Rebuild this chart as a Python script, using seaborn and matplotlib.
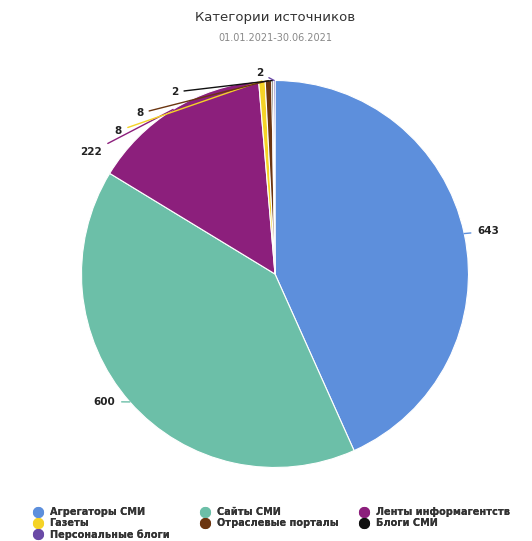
import numpy as np
import matplotlib
matplotlib.use("Agg")
import matplotlib.pyplot as plt
import seaborn as sns
from matplotlib.lines import Line2D

# Source categories and mention counts for the period
categories = ["Агрегаторы СМИ", "Сайты СМИ", "Ленты информагентств", "Газеты",
              "Отраслевые порталы", "Блоги СМИ", "Персональные блоги"]
counts = [643, 600, 222, 8, 8, 2, 2]
colors = ["#5d8fdc", "#6cbfa8", "#8c1f7c", "#f5d327", "#6b3510", "#111111", "#6a4aa6"]

title = "Категории источников"
subtitle = "01.01.2021-30.06.2021"

# Label placement (axes data units, pie radius = 1)
label_pos = [(1.10, 0.22), (-0.88, -0.66), (-0.95, 0.63), (-0.81, 0.74),
             (-0.70, 0.83), (-0.52, 0.94), (-0.08, 1.04)]

sns.set_theme(style="white")
plt.rcParams["font.family"] = ["DejaVu Sans"]

fig = plt.figure(figsize=(5.32, 5.41), dpi=100)
fig.patch.set_facecolor("white")

ax = fig.add_axes([0.1532, 0.1359, 0.7274, 0.7153])
wedges, _ = ax.pie(counts, colors=colors, startangle=90, counterclock=False,
                   radius=1.0, wedgeprops=dict(edgecolor="white", linewidth=0.8))
ax.set_xlim(-1, 1)
ax.set_ylim(-1, 1)
ax.set_aspect("auto")
ax.axis("off")

total = float(sum(counts))
cum = 0.0
for v, col, (tx, ty) in zip(counts, colors, label_pos):
    mid = np.deg2rad(90 - 360.0 * (cum + v / 2.0) / total)
    cum += v
    px, py = np.cos(mid), np.sin(mid)
    ax.annotate(str(v), xy=(px, py), xytext=(tx, ty), ha="center", va="center",
                fontsize=7.5, fontweight="bold", color="#222222",
                annotation_clip=False,
                arrowprops=dict(arrowstyle="-", color=col, lw=1.0,
                                shrinkA=2, shrinkB=0))

fig.text(0.517, 0.968, title, ha="center", va="center", fontsize=9.5, color="#333333")
fig.text(0.517, 0.930, subtitle, ha="center", va="center", fontsize=7, color="#888888")

# Legend laid out row by row in three columns
handles = [Line2D([0], [0], marker="o", linestyle="", markersize=7,
                  markerfacecolor=c, markeredgecolor=c) for c in colors]
col_x = [0.062, 0.376, 0.675]
for j, x0 in enumerate(col_x):
    idx = list(range(j, len(categories), 3))
    leg = fig.legend([handles[i] for i in idx], [categories[i] for i in idx],
                     loc="upper left", bbox_to_anchor=(x0, 0.063), frameon=False,
                     handletextpad=0.7, labelspacing=0.12, handlelength=1.0,
                     borderaxespad=0.0, borderpad=0.0,
                     prop=dict(weight="bold", size=7), labelcolor="#333333")
    fig.add_artist(leg)

fig.savefig("out.png", dpi=100, facecolor="white")
